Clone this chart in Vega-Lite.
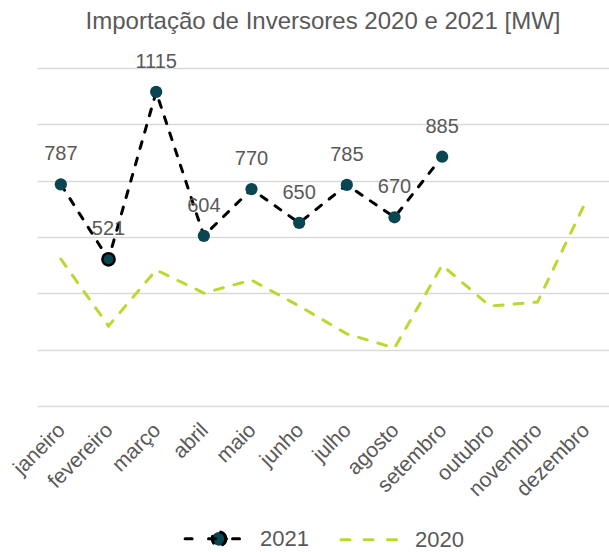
{
  "$schema": "https://vega.github.io/schema/vega-lite/v6.json",
  "width": 572,
  "height": 338,
  "autosize": {"type": "none"},
  "padding": {"left": 37, "right": 0, "top": 68, "bottom": 146},
  "background": "white",
  "title": {
    "text": "Importação de Inversores 2020 e 2021 [MW]",
    "fontSize": 24,
    "font": "Liberation Sans",
    "fontWeight": "normal",
    "color": "#595959",
    "offset": 18,
    "anchor": "middle"
  },
  "config": {
    "view": {"stroke": null},
    "font": "Liberation Sans",
    "legend": {"layout": {"bottom": {"anchor": "middle"}}}
  },
  "data": {
    "values": [
      {"mes": "janeiro", "ano": "2021", "valor": 787},
      {"mes": "fevereiro", "ano": "2021", "valor": 521},
      {"mes": "março", "ano": "2021", "valor": 1115},
      {"mes": "abril", "ano": "2021", "valor": 604},
      {"mes": "maio", "ano": "2021", "valor": 770},
      {"mes": "junho", "ano": "2021", "valor": 650},
      {"mes": "julho", "ano": "2021", "valor": 785},
      {"mes": "agosto", "ano": "2021", "valor": 670},
      {"mes": "setembro", "ano": "2021", "valor": 885},
      {"mes": "janeiro", "ano": "2020", "valor": 522},
      {"mes": "fevereiro", "ano": "2020", "valor": 284},
      {"mes": "março", "ano": "2020", "valor": 483},
      {"mes": "abril", "ano": "2020", "valor": 401},
      {"mes": "maio", "ano": "2020", "valor": 447},
      {"mes": "junho", "ano": "2020", "valor": 355},
      {"mes": "julho", "ano": "2020", "valor": 256},
      {"mes": "agosto", "ano": "2020", "valor": 206},
      {"mes": "setembro", "ano": "2020", "valor": 500},
      {"mes": "outubro", "ano": "2020", "valor": 355},
      {"mes": "novembro", "ano": "2020", "valor": 369},
      {"mes": "dezembro", "ano": "2020", "valor": 721}
    ]
  },
  "encoding": {
    "x": {
      "field": "mes",
      "type": "ordinal",
      "sort": ["janeiro", "fevereiro", "março", "abril", "maio", "junho", "julho", "agosto", "setembro", "outubro", "novembro", "dezembro"],
      "scale": {
        "type": "point",
        "padding": 0.5,
        "domain": ["janeiro", "fevereiro", "março", "abril", "maio", "junho", "julho", "agosto", "setembro", "outubro", "novembro", "dezembro"]
      },
      "axis": {
        "title": null,
        "labelAngle": -45,
        "labelFontSize": 21,
        "labelColor": "#595959",
        "labelPadding": 13,
        "labelOffset": -7,
        "labelOverlap": false,
        "domain": false,
        "ticks": false,
        "grid": false
      }
    },
    "y": {
      "field": "valor",
      "type": "quantitative",
      "scale": {"domain": [0, 1200], "nice": false, "zero": true},
      "axis": {
        "title": null,
        "labels": false,
        "ticks": false,
        "domain": false,
        "grid": true,
        "gridColor": "#d9d9d9",
        "gridWidth": 1.5,
        "values": [0, 200, 400, 600, 800, 1000, 1200],
        "minExtent": 0,
        "maxExtent": 0
      }
    }
  },
  "layer": [
    {
      "mark": {"type": "line", "strokeWidth": 3, "strokeCap": "round"},
      "encoding": {
        "stroke": {
          "field": "ano",
          "type": "nominal",
          "scale": {"domain": ["2021", "2020"], "range": ["#000000", "#bed62f"]},
          "legend": {
            "title": null,
            "orient": "bottom",
            "direction": "horizontal",
            "labelFontSize": 22,
            "labelColor": "#595959",
            "symbolSize": 3600,
            "symbolStrokeWidth": 3,
            "symbolDash": [],
            "labelOffset": 14,
            "columnPadding": 26,
            "offset": 7,
            "encode": {
              "symbols": {
                "update": {
                  "shape": {"signal": "datum.value === '2021' ? 'M-0.98,0H-0.55M-0.2,0H0.4M0.6,0H0.98M0.38,0A0.23,0.23 0 1,1 -0.08,0A0.23,0.23 0 1,1 0.38,0Z' : 'M-0.95,0H-0.6M-0.18,0H0.18M0.6,0H0.95'"},
                  "fill": {"signal": "datum.value === '2021' ? '#0a4652' : 'transparent'"},
                  "stroke": {"signal": "datum.value === '2021' ? '#000000' : '#bed62f'"},
                  "strokeDash": {"value": [1000, 0]},
                  "strokeCap": {"value": "round"}
                }
              }
            }
          }
        },
        "strokeDash": {
          "field": "ano",
          "type": "nominal",
          "scale": {"domain": ["2021", "2020"], "range": [[7, 10], [9, 11]]},
          "legend": null
        }
      }
    },
    {
      "transform": [{"filter": "datum.ano === '2021'"}],
      "mark": {"type": "point", "filled": true, "size": 150, "opacity": 1, "color": "#0a4652"},
      "encoding": {
        "stroke": {"condition": {"test": "datum.mes === 'fevereiro'", "value": "#000000"}, "value": null},
        "strokeWidth": {"condition": {"test": "datum.mes === 'fevereiro'", "value": 2.5}, "value": 0}
      }
    },
    {
      "transform": [{"filter": "datum.ano === '2021'"}],
      "mark": {"type": "text", "dy": -30, "fontSize": 20, "color": "#595959", "font": "Liberation Sans"},
      "encoding": {"text": {"field": "valor", "type": "quantitative"}}
    }
  ]
}
